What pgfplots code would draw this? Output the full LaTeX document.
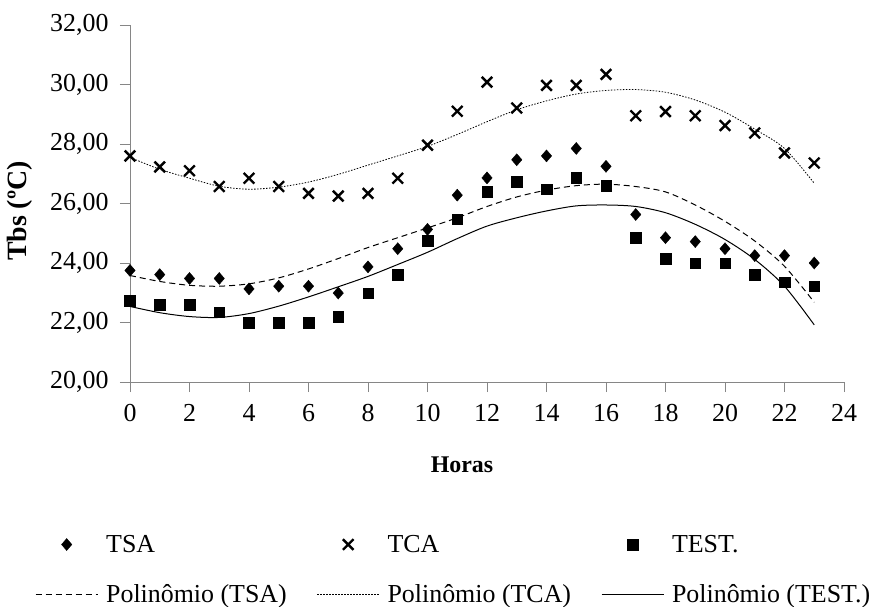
\documentclass[border=0pt]{standalone}
\usepackage{fontspec}
\setmainfont{Liberation Serif}
\usepackage{pgfplots}
\pgfplotsset{compat=1.18}
\definecolor{axgray}{RGB}{134,134,134}
\pgfplotsset{
  markleg/.style={legend image code/.code={\draw[mark repeat=2,mark phase=2,##1] plot coordinates {(0bp,0bp)(31bp,0bp)(62bp,0bp)};}},
  lineleg/.style={legend image code/.code={\draw[##1] (0bp,0bp) -- (62bp,0bp);}},
}
\begin{document}
\begin{tikzpicture}
\useasboundingbox (-130bp,-225bp) rectangle (751bp,382bp);
\begin{axis}[
  at={(0,0)}, anchor=south west,
  scale only axis, width=714bp, height=357bp,
  xmin=0, xmax=24, ymin=20, ymax=32,
  xtick={0,2,...,24}, ytick={20,22,...,32},
  axis lines*=left,
  axis line style={draw=axgray, line width=0.9bp},
  tick style={draw=axgray, line width=0.9bp},
  tick align=outside, major tick length=10bp,
  tick label style={font=\fontsize{26}{30}\selectfont, text=black},
  /pgf/number format/assume math mode=true,
  y tick label style={xshift=-8bp, /pgf/number format/.cd, fixed, fixed zerofill, precision=2, use comma},
  x tick label style={yshift=-9bp},
  xlabel={\textbf{Horas}},
  xlabel style={at={(axis description cs:0.465,-0.2325)}, anchor=center, font=\fontsize{24}{28}\selectfont},
  ylabel={\textbf{Tbs (ºC)}},
  ylabel style={at={(axis description cs:-0.154,0.479)}, anchor=center, font=\fontsize{28}{32}\selectfont},
  legend columns=3,
  legend cell align=left,
  legend style={draw=none, fill=none, inner sep=0pt,
    at={(axis description cs:0,0)}, anchor=north west, xshift=-95bp, yshift=-151bp,
    font=\fontsize{26}{30}\selectfont, row sep=27bp,
    /tikz/every odd column/.append style={column sep=6bp},
    /tikz/every even column/.append style={column sep=28bp}},
]
\addplot[only marks, mark=diamond*, mark size=6bp, black, mark options={xscale=1.15}, markleg]
  table {
0 23.75
1 23.61
2 23.48
3 23.48
4 23.13
5 23.22
6 23.22
7 22.99
8 23.87
9 24.48
10 25.13
11 26.28
12 26.86
13 27.47
14 27.60
15 27.85
16 27.25
17 25.63
18 24.85
19 24.72
20 24.48
21 24.25
22 24.25
23 24.00
};
\addlegendentry{TSA}
\addplot[only marks, mark=x, mark size=7.5bp, black, mark options={line width=2.4bp}, markleg]
  table {
0 27.60
1 27.23
2 27.10
3 26.57
4 26.85
5 26.57
6 26.34
7 26.25
8 26.34
9 26.85
10 27.96
11 29.10
12 30.08
13 29.21
14 29.97
15 29.97
16 30.34
17 28.95
18 29.09
19 28.95
20 28.62
21 28.37
22 27.70
23 27.36
};
\addlegendentry{TCA}
\addplot[only marks, mark=square*, mark size=5.3bp, black, markleg]
  table {
0 22.74
1 22.60
2 22.60
3 22.35
4 22.00
5 22.00
6 22.00
7 22.20
8 22.99
9 23.61
10 24.74
11 25.47
12 26.39
13 26.73
14 26.48
15 26.86
16 26.59
17 24.85
18 24.14
19 24.00
20 24.00
21 23.61
22 23.35
23 23.22
};
\addlegendentry{TEST.}
\addplot[black, mark=none, smooth, line width=1bp, dash pattern=on 6bp off 4bp, lineleg]
  table {
0 23.58
1 23.38
2 23.25
3 23.22
4 23.30
5 23.50
6 23.80
7 24.15
8 24.52
9 24.85
10 25.18
11 25.52
12 25.90
13 26.22
14 26.45
15 26.60
16 26.65
17 26.57
18 26.39
19 25.95
20 25.40
21 24.74
22 23.89
23 22.68
};
\addlegendentry{Polinômio (TSA)}
\addplot[black, mark=none, smooth, line width=0.8bp, dash pattern=on 1.5bp off 1.5bp, lineleg]
  table {
0 27.55
1 27.15
2 26.85
3 26.58
4 26.48
5 26.55
6 26.72
7 26.98
8 27.29
9 27.60
10 27.92
11 28.32
12 28.75
13 29.15
14 29.45
15 29.68
16 29.80
17 29.83
18 29.74
19 29.48
20 29.07
21 28.50
22 27.85
23 26.68
};
\addlegendentry{Polinômio (TCA)}
\addplot[black, mark=none, smooth, line width=1bp, lineleg]
  table {
0 22.54
1 22.33
2 22.20
3 22.17
4 22.30
5 22.55
6 22.86
7 23.20
8 23.55
9 23.95
10 24.36
11 24.82
12 25.24
13 25.52
14 25.75
15 25.92
16 25.95
17 25.90
18 25.69
19 25.30
20 24.79
21 24.12
22 23.22
23 21.92
};
\addlegendentry{Polinômio (TEST.)}
\end{axis}
\end{tikzpicture}
\end{document}
